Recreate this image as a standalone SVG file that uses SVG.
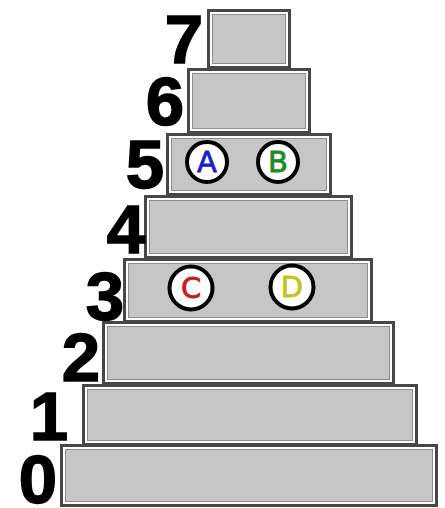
<svg xmlns="http://www.w3.org/2000/svg" width="445" height="508" viewBox="0 0 445 508">
<style>
.o{fill:#474747}
.w{fill:#ffffff}
.g{fill:#c6c6c6;stroke:#8e8e8e;stroke-width:1}
.num{font-family:"Liberation Sans",Arial,sans-serif;font-weight:bold;font-size:69px;fill:#000;stroke:#000;stroke-width:1.5;text-anchor:end}
.c{fill:#fff;stroke:#000;stroke-width:4}
.l{font-family:"DejaVu Sans","Noto Sans",sans-serif;font-size:29px;text-anchor:middle;stroke-width:0.8}
</style>
<rect width="445" height="508" fill="#fff"/>
<g id="level0"><rect class="o" x="60" y="444" width="378" height="63"/><rect class="w" x="63" y="447" width="372" height="57"/><rect class="g" x="65.5" y="449.5" width="367" height="52"/><text class="num" x="57" y="503">0</text></g>
<g id="level1"><rect class="o" x="82" y="384" width="336" height="62"/><rect class="w" x="85" y="387" width="330" height="56"/><rect class="g" x="87.5" y="389.5" width="325" height="51"/><text class="num" x="68" y="440">1</text></g>
<g id="level2"><rect class="o" x="102" y="321" width="293" height="64"/><rect class="w" x="105" y="324" width="287" height="58"/><rect class="g" x="107.5" y="326.5" width="282" height="53"/><text class="num" x="100" y="381">2</text></g>
<g id="level3"><rect class="o" x="123" y="258" width="250" height="65"/><rect class="w" x="126" y="261" width="244" height="59"/><rect class="g" x="128.5" y="263.5" width="239" height="54"/><text class="num" x="124" y="320">3</text></g>
<g id="level4"><rect class="o" x="144" y="195" width="209" height="64"/><rect class="w" x="147" y="198" width="203" height="58"/><rect class="g" x="149.5" y="200.5" width="198" height="53"/><text class="num" x="145" y="253">4</text></g>
<g id="level5"><rect class="o" x="166" y="133" width="166" height="63"/><rect class="w" x="169" y="136" width="160" height="57"/><rect class="g" x="171.5" y="138.5" width="155" height="52"/><text class="num" x="164" y="188">5</text></g>
<g id="level6"><rect class="o" x="187" y="68" width="124" height="66"/><rect class="w" x="190" y="71" width="118" height="60"/><rect class="g" x="192.5" y="73.5" width="113" height="55"/><text class="num" x="184" y="125">6</text></g>
<g id="level7"><rect class="o" x="207" y="9" width="84" height="60"/><rect class="w" x="210" y="12" width="78" height="54"/><rect class="g" x="212.5" y="14.5" width="73" height="49"/><text class="num" x="203" y="63">7</text></g>
<g id="A"><circle class="c" cx="207" cy="162" r="20"/><text class="l" x="207" y="172" fill="#1c1ccc" stroke="#1c1ccc">A</text></g>
<g id="B"><circle class="c" cx="278" cy="162" r="20"/><text class="l" x="278" y="172" fill="#1e8c1e" stroke="#1e8c1e">B</text></g>
<g id="C"><circle class="c" cx="191" cy="288" r="21.5"/><text class="l" x="191" y="298" fill="#cc1a1a" stroke="#cc1a1a">C</text></g>
<g id="D"><circle class="c" cx="292" cy="287" r="21.5"/><text class="l" x="292" y="297" fill="#c4c41e" stroke="#c4c41e">D</text></g>
<g id="connectors"/>
</svg>
